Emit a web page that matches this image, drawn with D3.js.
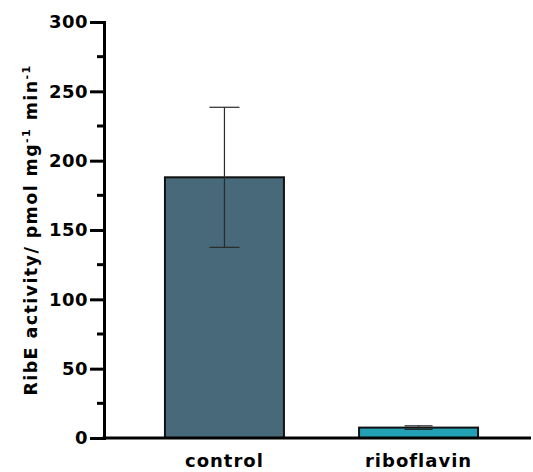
<!DOCTYPE html>
<html>
<head>
<meta charset="utf-8">
<script src="https://cdn.jsdelivr.net/npm/d3@7"></script>
<style>
  body { margin: 0; background: #fff; }
  svg text { font-family: "DejaVu Sans", sans-serif; font-weight: bold; fill: #000; }
</style>
</head>
<body>
<svg id="chart" width="533" height="472"></svg>
<script>
// data
const categories = ['control', 'riboflavin'];
const means = [188, 7.5];
const errors = [50.5, 1.3];
const yTicks = [0, 50, 100, 150, 200, 250, 300];
const colors = ['#476979', '#22a1b4'];

const svg = d3.select('#chart');

const y = d3.scaleLinear().domain([0, 300]).range([438, 22]);
const x = d3.scaleBand()
  .domain(categories)
  .range([104, 539])
  .paddingInner(0.387)
  .paddingOuter(0.314);

const data = categories.map((c, i) => ({ name: c, value: means[i], err: errors[i], color: colors[i] }));

// bars
svg.append('g')
  .selectAll('rect')
  .data(data)
  .enter().append('rect')
  .attr('x', d => x(d.name))
  .attr('y', d => y(d.value))
  .attr('width', x.bandwidth())
  .attr('height', d => y(0) - y(d.value))
  .attr('fill', d => d.color)
  .attr('stroke', '#111')
  .attr('stroke-width', 2);

// error bars
const eb = svg.append('g').attr('stroke', '#2a2a2a').attr('stroke-width', 1.2);
data.forEach(d => {
  const cx = x(d.name) + x.bandwidth() / 2;
  const cap = d.err > 5 ? 15 : 14;
  eb.append('line').attr('x1', cx).attr('x2', cx)
    .attr('y1', y(d.value + d.err)).attr('y2', y(d.value - d.err));
  [d.value + d.err, d.value - d.err].forEach(v => {
    eb.append('line').attr('x1', cx - cap).attr('x2', cx + cap)
      .attr('y1', y(v)).attr('y2', y(v));
  });
});

// y axis (major ticks)
const yAxis = svg.append('g')
  .attr('transform', 'translate(104,0)')
  .call(d3.axisLeft(y).tickValues(yTicks).tickSize(14).tickPadding(2));
yAxis.select('.domain').attr('stroke', '#000').attr('stroke-width', 3);
yAxis.selectAll('.tick line').attr('stroke', '#000').attr('stroke-width', 3);
yAxis.selectAll('.tick text')
  .attr('font-size', 18)
  .attr('letter-spacing', 0.5)
  .attr('font-family', '"DejaVu Sans", sans-serif')
  .attr('font-weight', 'bold');

// minor ticks
svg.append('g')
  .selectAll('line')
  .data(d3.range(25, 300, 50))
  .enter().append('line')
  .attr('x1', 97).attr('x2', 104)
  .attr('y1', d => y(d)).attr('y2', d => y(d))
  .attr('stroke', '#000').attr('stroke-width', 3);

// x axis line
svg.append('line')
  .attr('x1', 102.5).attr('x2', 531)
  .attr('y1', y(0)).attr('y2', y(0))
  .attr('stroke', '#000').attr('stroke-width', 3);

// x labels
svg.append('g')
  .selectAll('text')
  .data(categories)
  .enter().append('text')
  .attr('x', d => x(d) + x.bandwidth() / 2)
  .attr('y', 467)
  .attr('text-anchor', 'middle')
  .attr('font-size', 18)
  .attr('letter-spacing', 1)
  .text(d => d);

// y title
const title = svg.append('text')
  .attr('transform', 'translate(37,230) rotate(-90)')
  .attr('text-anchor', 'middle')
  .attr('font-size', 17.5)
  .attr('letter-spacing', 1.4);
title.append('tspan').text('RibE activity/ pmol mg');
title.append('tspan').attr('dy', -7).attr('font-size', 11).text('-1');
title.append('tspan').attr('dy', 7).text(' min');
title.append('tspan').attr('dy', -7).attr('font-size', 11).text('-1');
</script>
</body>
</html>
